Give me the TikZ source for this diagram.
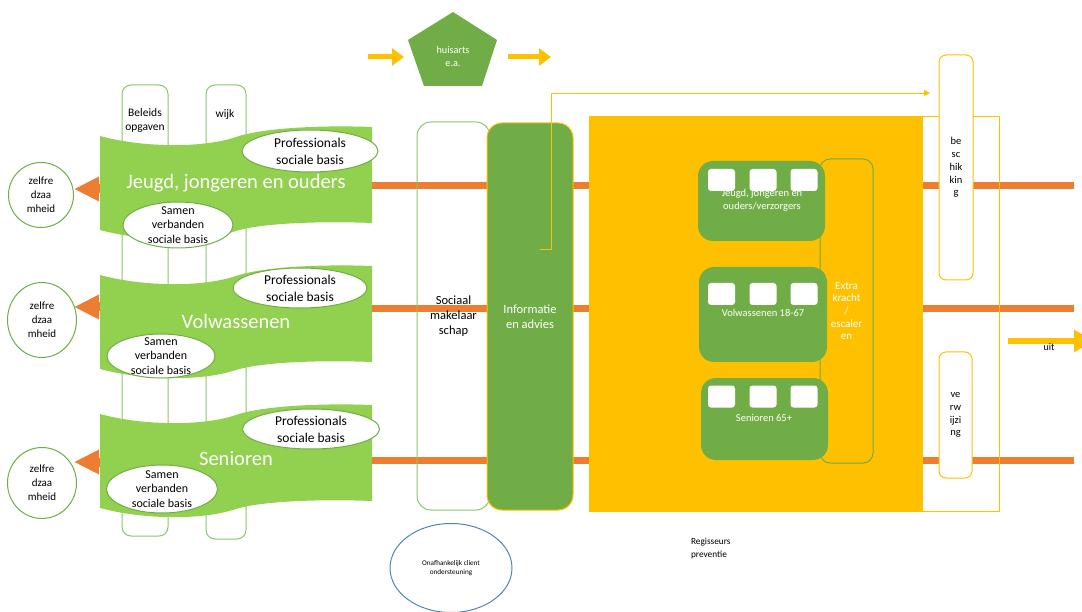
\documentclass[tikz,border=0pt]{standalone}
\usepackage{fontspec}
\setmainfont{Carlito}
\usetikzlibrary{arrows.meta,shapes.geometric}
\definecolor{bgreen}{HTML}{92D050}
\definecolor{dgreen}{HTML}{70AD47}
\definecolor{lgreen}{HTML}{8CC56B}
\definecolor{orng}{HTML}{ED7D31}
\definecolor{ylw}{HTML}{FFC000}
\definecolor{blu}{HTML}{5282BE}
\newcommand\myfs[2]{\fontsize{#1}{#2}\selectfont}
\newcommand\mybanner[1]{\fill[bgreen,shift={(0,#1)}] (100,9) .. controls (140,20) and (200,22) .. (236,10) .. controls (262,1) and (320,-2) .. (372,0) -- (372,96) .. controls (320,94) and (262,96) .. (236,104) .. controls (200,116) and (140,114) .. (100,103) -- cycle;}
\tikzset{
  every node/.style={inner sep=0pt, outer sep=0pt},
  colbox/.style={rectangle, draw=lgreen, line width=1pt, fill=white, rounded corners=9pt},
  ell/.style={ellipse, draw=dgreen, line width=1pt, fill=white},
  oline/.style={draw=orng, line width=7pt},
  larrow/.style={draw=orng, line width=9pt, -{Triangle[length=25pt,width=23pt]}},
  yarrow/.style={draw=ylw, line width=5pt, -{Triangle[length=12pt,width=17pt]}},
  wtxt/.style={text=white, align=center},
  btxt/.style={text=black, align=center},
  gbox/.style={rectangle, fill=dgreen, rounded corners=15pt},
  wsq/.style={rectangle, fill=white, rounded corners=3pt, minimum width=27pt, minimum height=22pt},
  ybox/.style={rectangle, draw=ylw, line width=1pt, fill=white, rounded corners=7pt},
}
\begin{document}
\begin{tikzpicture}[x=1pt,y=-1pt]
\useasboundingbox (0,0) rectangle (1082,612);

% orange horizontal lines
\coordinate (l1a) at (370,186); \coordinate (l1b) at (1074,186);
\coordinate (l2a) at (370,309); \coordinate (l2b) at (1074,309);
\coordinate (l3a) at (370,460); \coordinate (l3b) at (1074,460);
\draw[oline] (l1a) -- (l1b);
\draw[oline] (l2a) -- (l2b);
\draw[oline] (l3a) -- (l3b);

% vertical columns
\node[colbox, minimum width=46pt, minimum height=451pt] (colA) at (145,310.5) {};
\node[colbox, minimum width=40pt, minimum height=454pt] (colB) at (226,312) {};
\node[btxt, font=\myfs{11.5}{14}] (colAt) at (145,120) {Beleids\\opgaven};
\node[btxt, font=\myfs{11.5}{14}] (colBt) at (225,114) {wijk};

% zelfredzaamheid circles
\node[ell, minimum width=65pt, minimum height=65pt] (z1) at (41,195) {};
\node[ell, minimum width=69pt, minimum height=75pt] (z2) at (42,320) {};
\node[ell, minimum width=69pt, minimum height=71pt] (z3) at (42,483) {};
\node[btxt, font=\myfs{11}{14}] at (z1) {zelfre\\dzaa\\mheid};
\node[btxt, font=\myfs{11}{14}] at (z2) {zelfre\\dzaa\\mheid};
\node[btxt, font=\myfs{11}{14}] at (z3) {zelfre\\dzaa\\mheid};

% left arrows
\coordinate (a1s) at (112,189); \coordinate (a1e) at (74,189);
\coordinate (a2s) at (112,307); \coordinate (a2e) at (74,307);
\coordinate (a3s) at (112,462); \coordinate (a3e) at (74,462);
\draw[larrow] (a1s) -- (a1e);
\draw[larrow] (a2s) -- (a2e);
\draw[larrow] (a3s) -- (a3e);

% banners
\mybanner{127}
\mybanner{266}
\mybanner{405}
\node[wtxt, font=\myfs{20.5}{24}] (t1) at (236,183) {Jeugd, jongeren en ouders};
\node[wtxt, font=\myfs{20.5}{24}] (t2) at (236,321) {Volwassenen};
\node[wtxt, font=\myfs{20.5}{24}] (t3) at (236,459) {Senioren};

% ellipses
\node[ell, minimum width=136pt, minimum height=42pt] (p1) at (310,151) {};
\node[ell, minimum width=134pt, minimum height=40pt] (p2) at (300,288) {};
\node[ell, minimum width=137pt, minimum height=40pt] (p3) at (311,429) {};
\node[btxt, font=\myfs{13.5}{17}] at (p1) {Professionals\\sociale basis};
\node[btxt, font=\myfs{13.5}{17}] at (p2) {Professionals\\sociale basis};
\node[btxt, font=\myfs{13.5}{17}] at (p3) {Professionals\\sociale basis};
\node[ell, minimum width=110pt, minimum height=46pt] (s1) at (178,225) {};
\node[ell, minimum width=108pt, minimum height=44pt] (s2) at (161,356) {};
\node[ell, minimum width=111pt, minimum height=48pt] (s3) at (162,489) {};
\node[btxt, font=\myfs{12}{14.5}] at (s1) {Samen\\verbanden\\sociale basis};
\node[btxt, font=\myfs{12}{14.5}] at (s2) {Samen\\verbanden\\sociale basis};
\node[btxt, font=\myfs{12}{14.5}] at (s3) {Samen\\verbanden\\sociale basis};

% middle columns
\node[rectangle, draw=lgreen, line width=1pt, rounded corners=14pt, minimum width=73pt, minimum height=388pt, btxt, font=\myfs{12.5}{15}] (soc) at (453.5,316) {Sociaal\\makelaar\\schap};
\node[rectangle, fill=dgreen, draw=ylw, line width=1pt, rounded corners=15pt, minimum width=86pt, minimum height=387pt, wtxt, font=\myfs{12.5}{15}] (info) at (530,316.5) {Informatie\\en advies};

% yellow block
\node[rectangle, fill=ylw, minimum width=334pt, minimum height=394pt] (yfill) at (756,314) {};
\node[rectangle, draw=ylw, line width=1pt, minimum width=410pt, minimum height=394pt] (yout) at (794,314) {};

% beschikking / verwijzing
\node[ybox, minimum width=34pt, minimum height=225pt, btxt, font=\myfs{10.5}{12.8}] (besch) at (956,167.5) {be\\sc\\hik\\kin\\g};
\node[ybox, minimum width=33pt, minimum height=126pt, btxt, font=\myfs{10.5}{12.8}] (verw) at (955.5,415) {ve\\rw\\ijzi\\ng};

% extra kracht
\node[rectangle, draw=dgreen, line width=1pt, rounded corners=10pt, minimum width=53pt, minimum height=304pt, wtxt, font=\myfs{11}{12.6}] (extra) at (846.5,311) {Extra\\kracht\\/\\escaler\\en};

% green group boxes
\node[gbox, minimum width=127pt, minimum height=80pt] (g1) at (761.5,201) {};
\node[gbox, minimum width=128pt, minimum height=95pt] (g2) at (763,314.5) {};
\node[gbox, minimum width=127pt, minimum height=82pt] (g3) at (764.5,419) {};
\node[wtxt, font=\myfs{10.5}{13}] (g1t) at (762,200.5) {Jeugd, jongeren en\\ouders/verzorgers};
\node[wtxt, font=\myfs{10.5}{13}] (g2t) at (763,313) {Volwassenen 18-67};
\node[wtxt, font=\myfs{10.5}{13}] (g3t) at (764,418) {Senioren 65+};
\foreach \yy/\gg in {180/a,294/b,396.5/c}{
  \node[wsq] (sq1\gg) at (721.5,\yy) {};
  \node[wsq] (sq2\gg) at (763,\yy) {};
  \node[wsq] (sq3\gg) at (804,\yy) {};
}

% thin connector from Informatie to beschikking
\coordinate (cs) at (540,249);
\coordinate (ce) at (930,93);
\draw[ylw, line width=0.9pt, -{Triangle[length=6pt,width=6pt]}] (cs) -- ++(11,0) |- (ce);

% huisarts pentagon
\fill[dgreen] (453,12) -- (497,40) -- (482,86) -- (424,86) -- (408,40) -- cycle;
\node[wtxt, font=\myfs{10.2}{13}] (huis) at (453,57) {huisarts\\e.a.};
\coordinate (h1s) at (368,57); \coordinate (h1e) at (404,57);
\coordinate (h2s) at (508,57); \coordinate (h2e) at (551,57);
\draw[yarrow] (h1s) -- (h1e);
\draw[yarrow] (h2s) -- (h2e);

% uit arrow
\coordinate (us) at (1008,341); \coordinate (ue) at (1094,341);
\draw[draw=ylw, line width=6pt, -{Triangle[length=20pt,width=21pt]}] (us) -- (ue);
\node[btxt, font=\myfs{10}{12}] (uit) at (1049,347) {uit};

% onafhankelijk client ondersteuning
\node[ellipse, draw=blu, line width=1pt, minimum width=122pt, minimum height=89pt] (oco) at (451,568) {};
\node[btxt, font=\myfs{7.2}{8.4}] at (oco) {Onafhankelijk client\\ondersteuning};

% regisseurs preventie
\node[anchor=north west, align=left, font=\myfs{9.3}{12.7}] (reg) at (691,538) {Regisseurs\\preventie};
\end{tikzpicture}
\end{document}
